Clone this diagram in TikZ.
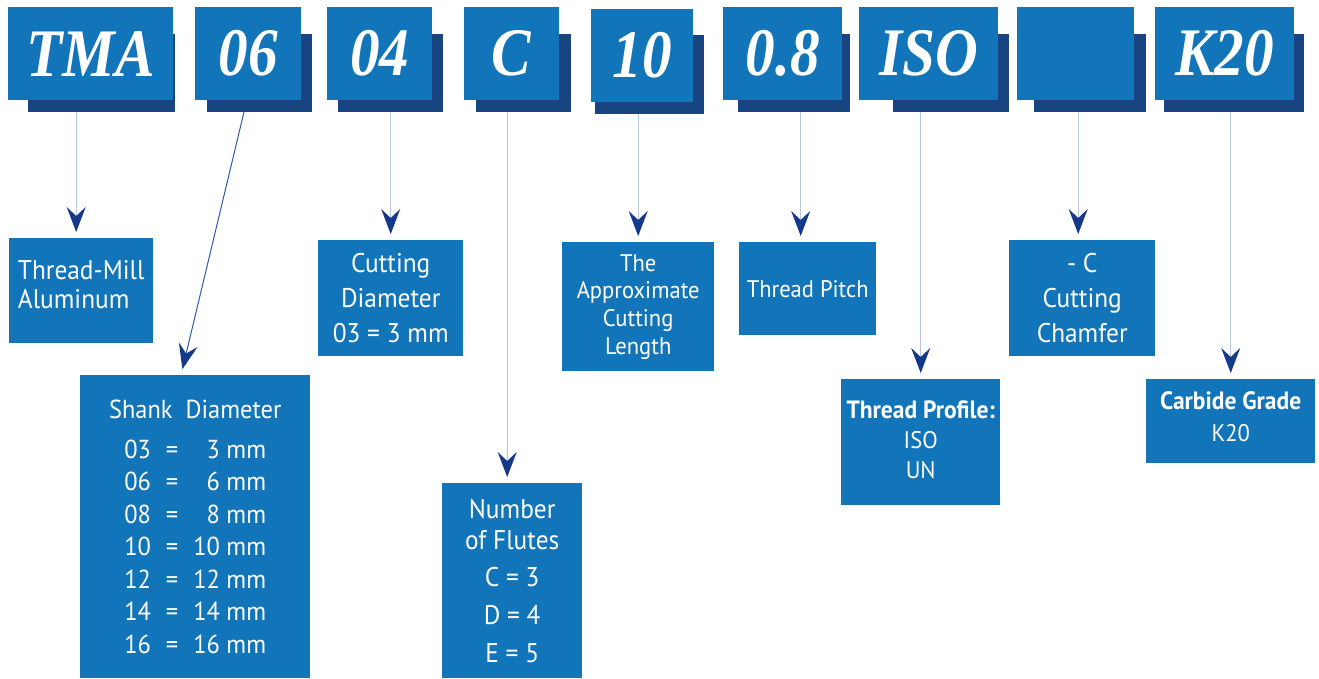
\documentclass[tikz,border=0pt]{standalone}
\usepackage{fontspec}
\setmainfont{PT Sans}[FakeStretch=0.94]
\newfontfamily\headfont[FakeStretch=0.87]{Liberation Serif}
\usetikzlibrary{arrows.meta}
\definecolor{boxblue}{RGB}{18,117,185}
\definecolor{shadeblue}{RGB}{24,68,130}
\definecolor{tipblue}{RGB}{21,57,138}
\definecolor{linkgray}{RGB}{183,200,222}
\definecolor{slantblue}{RGB}{47,90,166}
\tikzset{
  code/.style={fill=boxblue, text=white, anchor=north west, inner sep=0pt,
    minimum height=93pt, font=\headfont\bfseries\itshape\fontsize{68}{68}\selectfont},
  codeshade/.style={fill=shadeblue, anchor=north west, inner sep=0pt, minimum height=78pt},
  info/.style={fill=boxblue, text=white, anchor=north west, inner sep=0pt, align=center,
    font=\fontsize{27}{35}\selectfont},
  link/.style={draw=linkgray, line width=1pt, shorten >=6pt,
    -{Stealth[length=25pt, width=19pt, inset=9pt, color=tipblue]}}
}
\begin{document}
\begin{tikzpicture}[x=1pt,y=-1pt]
  \useasboundingbox (0,0) rectangle (1319,678);

  % code boxes with their shadows
  \node[codeshade, minimum width=147pt] (sTMA) at (28,34) {};
  \node[code, minimum width=165pt] (hTMA) at (8,7) {TMA};
  \node[codeshade, minimum width=105pt] (s06) at (207,34) {};
  \node[code, minimum width=106pt] (h06) at (195,7) {06};
  \node[codeshade, minimum width=105pt] (s04) at (338,34) {};
  \node[code, minimum width=105pt] (h04) at (327,7) {04};
  \node[codeshade, minimum width=95pt] (sC) at (476,34) {};
  \node[code, minimum width=95pt] (hC) at (464,7) {C};
  \node[codeshade, minimum width=109pt, minimum height=79pt] (s10) at (595,35) {};
  \node[code, minimum width=102pt] (h10) at (591,9) {10};
  \node[codeshade, minimum width=112pt] (s08) at (738,34) {};
  \node[code, minimum width=119pt] (h08) at (723,7) {0.8};
  \node[codeshade, minimum width=116pt] (sISO) at (893,34) {};
  \node[code, minimum width=139pt] (hISO) at (859,7) {ISO};
  \node[codeshade, minimum width=112pt] (sCh) at (1034,34) {};
  \node[code, minimum width=117pt] (hCh) at (1017,7) {};
  \node[codeshade, minimum width=140pt] (sK) at (1164,34) {};
  \node[code, minimum width=139pt] (hK) at (1155,7) {K20};

  % meaning boxes
  \node[info, align=left, minimum width=144pt, minimum height=105pt, text depth=12pt,
    font=\fontsize{27}{29}\selectfont] (lTMA) at (9,238) {Thread-Mill\\Aluminum};
  \node[info, minimum width=230pt, minimum height=303pt,
    font=\fontsize{26}{32.5}\selectfont] (lShank) at (80,375)
    {\rule{0pt}{28pt}Shank\ \ Diameter\\[7pt]
     \begin{tabular}[t]{@{}c@{\hspace{15pt}}c@{\hspace{15pt}}r@{}}
       03 & = & 3 mm\\
       06 & = & 6 mm\\
       08 & = & 8 mm\\
       10 & = & 10 mm\\
       12 & = & 12 mm\\
       14 & = & 14 mm\\
       16 & = & 16 mm
     \end{tabular}};
  \node[info, minimum width=145pt, minimum height=116pt] (lCut) at (318,240)
    {Cutting\\Diameter\\03 = 3 mm};
  \node[info, minimum width=140pt, minimum height=195pt,
    font=\fontsize{27}{31}\selectfont] (lFlute) at (442,483)
    {Number\\of Flutes\\[6pt]C = 3\\[7pt]D = 4\\[7pt]E = 5};
  \node[info, minimum width=152pt, minimum height=129pt,
    font=\fontsize{24}{27.7}\selectfont] (lLen) at (562,242)
    {The\\Approximate\\Cutting\\Length};
  \node[info, minimum width=137pt, minimum height=93pt,
    font=\fontsize{24}{28}\selectfont] (lPitch) at (739,242) {Thread Pitch};
  \node[info, minimum width=159pt, minimum height=126pt, text depth=6pt,
    font=\fontsize{24}{30}\selectfont] (lProf) at (841,379)
    {{\fontsize{25}{30}\selectfont\bfseries Thread Profile:}\\ISO\\UN};
  \node[info, minimum width=146pt, minimum height=116pt] (lCham) at (1009,240)
    {- C\\Cutting\\Chamfer};
  \node[info, minimum width=169pt, minimum height=84pt, text depth=10pt,
    font=\fontsize{24}{32}\selectfont] (lGrade) at (1146,379)
    {{\fontsize{25}{32}\selectfont\bfseries Carbide Grade}\\K20};

  % connectors
  \coordinate (tTMA) at ([xshift=-5pt]lTMA.north);
  \draw[link] (sTMA.south -| tTMA) -- (tTMA);
  \coordinate (t06) at (244,112);
  \coordinate (tShank) at (181,375);
  \draw[link, draw=slantblue] (t06) -- (tShank);
  \draw[link] (s04.south -| lCut.north) -- (lCut.north);
  \coordinate (tFlute) at ([xshift=-5pt]lFlute.north);
  \draw[link] (sC.south -| tFlute) -- (tFlute);
  \draw[link] (s10.south -| lLen.north) -- (lLen.north);
  \coordinate (tPitch) at ([xshift=-7pt]lPitch.north);
  \draw[link] (s08.south -| tPitch) -- (tPitch);
  \draw[link] (sISO.south -| lProf.north) -- (lProf.north);
  \coordinate (tCham) at ([xshift=-4pt]lCham.north);
  \draw[link] (sCh.south -| tCham) -- (tCham);
  \draw[link] (sK.south -| lGrade.north) -- (lGrade.north);
\end{tikzpicture}
\end{document}
